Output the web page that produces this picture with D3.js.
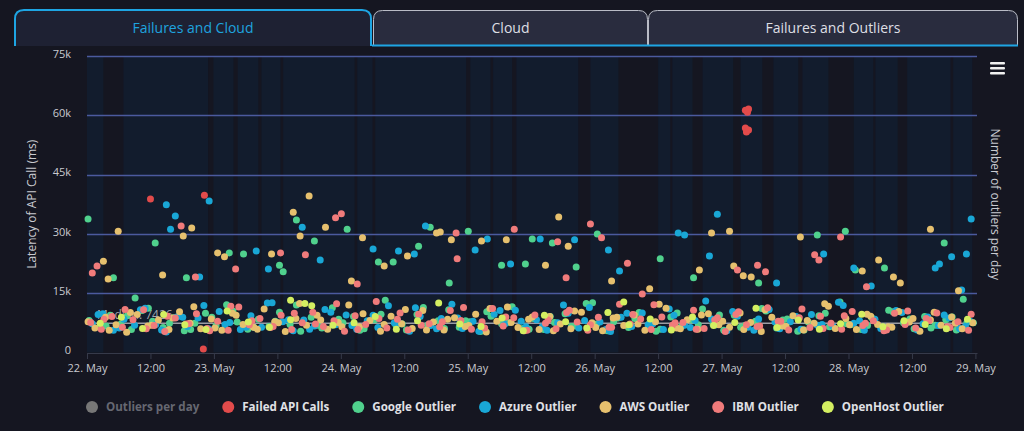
<!DOCTYPE html>
<html>
<head>
    <title>API Latency Outliers</title>
    <meta charset="utf-8">
    <style>
        html, body {
            margin: 0;
            padding: 0;
            background: #151621;
            overflow: hidden;
        }

        text {
            font-family: "Open Sans", "Noto Sans", sans-serif;
        }
    </style>
    <script src="https://d3js.org/d3.v7.min.js"></script>
</head>
<body>
<svg id="chart"></svg>
<script>
    // Tabs above the chart
    const tabNames = ['Failures and Cloud', 'Cloud', 'Failures and Outliers'];

    // Legend entries (first one is the hidden series)
    const seriesNames = ['Outliers per day', 'Failed API Calls', 'Google Outlier', 'Azure Outlier', 'AWS Outlier', 'IBM Outlier', 'OpenHost Outlier'];
    const seriesColors = ['#777777', '#e24b4b', '#50d18d', '#19a7d6', '#e6c06e', '#f07b7b', '#d4ef61'];

    // Y axis ticks, in thousands of ms
    const yTicks = [0, 15, 30, 45, 60, 75];
    const medianValue = 7.426;

    // Lighter plot bands, hours since 22 May 00:00
    const bandStart = [0, 6.9, 23.9, 28.5, 33.0, 37.1, 51.1, 54.5, 72.5, 76.8, 81.2, 95.2, 108.0, 110.7, 116.4, 123.6, 129.8, 135.3, 145.0, 149.1, 155.1, 163.8];
    const bandEnd = [3.1, 22.9, 27.7, 32.4, 36.6, 50.6, 54.0, 71.7, 76.3, 80.4, 92.9, 100.5, 110.3, 114.5, 122.2, 127.7, 134.5, 140.2, 148.7, 153.3, 163.3, 167.4];

    // Regular samples (ms in thousands), one every 2 hours
    const googleBase = [8.1, 6.5, 9.4, 7.2, 5.8, 10.6, 7.9, 6.3, 8.8, 5.5, 7.4, 9.9, 6.8, 12.1, 7.7, 5.9, 8.4, 6.6, 10.2, 7.1,
        5.4, 8.9, 6.2, 11.3, 7.5, 9.1, 6.0, 8.3, 13.2, 7.0, 5.7, 9.6, 6.9, 8.0, 10.8, 6.4, 7.8, 5.3, 9.2, 7.3,
        11.6, 6.1, 8.6, 5.8, 7.6, 9.8, 6.7, 12.4, 7.2, 5.5, 8.7, 6.3, 10.1, 7.4, 5.9, 9.0, 6.6, 8.2, 11.0, 7.1,
        5.6, 9.4, 6.8, 7.9, 10.5, 6.2, 8.5, 5.4, 7.7, 9.3, 6.5, 12.8, 7.0, 5.8, 8.8, 6.4, 10.3, 7.5, 6.0, 9.1,
        6.9, 8.3, 5.7, 7.6];
    const azureBase = [7.3, 9.8, 5.6, 8.4, 6.9, 11.2, 7.1, 5.2, 9.0, 6.6, 8.7, 6.0, 10.4, 7.6, 5.8, 9.3, 6.4, 12.6, 7.8, 5.5,
        8.2, 6.7, 10.9, 7.0, 9.5, 5.9, 8.0, 6.3, 11.8, 7.4, 5.4, 9.1, 6.8, 8.6, 12.2, 6.1, 7.9, 5.7, 9.7, 7.2,
        10.7, 6.5, 8.3, 5.6, 7.5, 9.9, 6.2, 11.4, 7.7, 5.3, 8.9, 6.6, 10.0, 7.3, 5.8, 9.4, 6.9, 8.1, 13.0, 7.0,
        5.5, 9.2, 6.4, 8.5, 10.9, 6.0, 7.8, 5.9, 9.6, 7.1, 6.7, 11.9, 7.4, 5.6, 8.4, 6.3, 10.6, 7.6, 5.7, 9.0,
        6.8, 8.7, 6.1, 7.9];
    const awsBase = [6.2, 8.9, 7.0, 5.1, 9.6, 6.7, 8.2, 5.8, 10.3, 7.4, 6.0, 8.5, 5.6, 9.9, 7.1, 6.4, 11.0, 7.8, 5.3, 8.6,
        6.9, 9.4, 5.9, 7.6, 12.0, 6.5, 8.1, 5.4, 9.2, 7.3, 6.1, 10.6, 7.7, 5.7, 8.8, 6.6, 9.7, 5.2, 7.9, 11.5,
        6.3, 8.4, 5.8, 9.1, 7.2, 6.0, 10.2, 7.5, 5.5, 8.7, 6.8, 9.5, 5.6, 7.8, 11.2, 6.2, 8.3, 5.9, 9.8, 7.0,
        6.4, 10.0, 7.6, 5.3, 8.9, 6.7, 9.3, 5.7, 7.4, 12.3, 6.1, 8.6, 5.8, 9.7, 7.1, 6.5, 10.4, 7.7, 5.4, 8.2,
        6.9, 9.0, 6.0, 7.5];
    const ibmBase = [7.6, 5.9, 9.1, 6.4, 8.3, 10.8, 6.8, 5.3, 8.7, 7.2, 9.8, 6.1, 7.9, 5.6, 11.5, 7.0, 8.6, 6.3, 9.4, 5.8,
        7.5, 10.2, 6.6, 8.0, 5.4, 9.3, 7.1, 12.9, 6.2, 8.4, 5.7, 9.7, 7.3, 6.5, 10.6, 8.1, 5.9, 7.8, 11.1, 6.7,
        8.8, 5.5, 9.5, 7.4, 6.0, 10.1, 7.7, 5.6, 8.9, 6.4, 12.2, 7.2, 8.5, 5.8, 9.0, 6.9, 7.6, 10.7, 6.1, 8.2,
        5.3, 9.6, 7.0, 6.6, 11.3, 7.9, 5.7, 8.8, 6.3, 9.2, 7.4, 5.9, 10.4, 6.8, 8.0, 5.5, 9.9, 7.1, 6.2, 8.6,
        10.0, 6.5, 7.8, 5.6];

    // Second, sparser samples, one every 4 hours
    const googleExtra = [6.7, 9.3, 11.2, 7.4, 5.8, 8.9, 10.5, 6.3, 7.9, 12.0, 6.9, 8.4, 5.6, 9.7, 7.2, 11.4, 6.1, 8.0, 10.3, 7.6,
        5.9, 9.1, 6.6, 12.6, 7.8, 8.6, 5.4, 10.0, 7.0, 9.5, 6.4, 11.1, 8.2, 5.7, 9.9, 7.3, 6.8, 10.7, 8.5, 6.2, 9.0, 7.5];
    const azureExtra = [9.6, 6.2, 10.8, 5.7, 8.9, 11.9, 7.1, 6.4, 12.5, 8.3, 5.9, 10.2, 6.8, 9.4, 7.5, 11.3, 6.0, 8.7, 5.4, 10.6,
        7.9, 6.5, 12.0, 8.1, 5.8, 9.9, 7.0, 11.0, 6.3, 8.5, 10.4, 5.6, 7.7, 9.1, 6.9, 12.7, 8.0, 6.1, 10.1, 7.3, 9.5, 6.6];
    const awsExtra = [7.8, 5.6, 10.1, 6.9, 8.7, 11.6, 6.2, 9.4, 5.9, 7.5, 12.4, 8.2, 6.5, 9.8, 7.1, 10.9, 5.7, 8.4, 6.8, 11.1,
        7.6, 9.0, 5.5, 10.5, 6.3, 8.9, 7.2, 12.2, 6.0, 9.5, 7.9, 5.8, 10.8, 6.6, 8.1, 11.7, 7.0, 9.2, 6.4, 8.6, 10.2, 7.4];
    const ibmExtra = [8.4, 10.9, 6.0, 9.2, 7.3, 5.5, 11.7, 8.0, 6.6, 9.9, 7.2, 12.3, 5.8, 8.6, 10.0, 6.9, 7.8, 11.4, 6.2, 9.0,
        5.6, 8.2, 10.7, 7.0, 6.4, 9.6, 12.1, 7.5, 5.9, 8.8, 10.3, 6.7, 7.9, 11.0, 6.1, 9.3, 7.4, 5.7, 10.5, 8.1, 6.3, 9.7];
    const openHostBase = [7.4, 8.9, 6.1, 9.6, 7.0, 5.8, 10.5, 7.7, 6.4, 8.3, 11.8, 6.9, 7.5, 9.1, 5.9, 8.0, 12.5, 7.2, 6.6, 8.7,
        5.5, 9.4, 7.8, 6.2, 10.1, 7.0, 8.5, 5.7, 9.0, 6.8, 7.6, 11.2, 6.3, 8.2, 5.9, 7.3, 9.7, 6.5, 8.0, 7.1,
        6.0, 8.4];

    // Single outliers: [hour, ms in thousands]
    const failedPoints = [[12.0, 38.8], [22.2, 39.8], [22.0, 0.9], [124.5, 61.3], [124.9, 60.8], [125.1, 61.6],
        [124.5, 56.8], [124.7, 55.8], [125.1, 56.3]];
    const googlePoints = [[0.2, 33.8], [5.0, 18.9], [12.9, 27.7], [9.1, 13.8], [18.8, 18.9], [26.9, 25.2], [29.6, 24.9],
        [36.4, 22.1], [37.1, 20.4], [39.6, 33.5], [43.0, 28.2], [49.2, 31.2], [55.1, 22.9], [57.9, 22.9], [62.7, 26.9],
        [64.9, 31.7], [68.5, 17.6], [72.1, 30.7], [78.4, 22.1], [82.9, 22.4], [84.2, 28.7], [88.0, 27.7], [92.5, 21.6],
        [96.5, 30.0], [108.4, 23.7], [114.7, 18.9], [127.0, 17.6], [138.1, 29.7], [143.4, 30.7], [145.3, 20.9],
        [150.8, 21.4], [162.1, 27.7], [165.7, 13.5]];
    const azurePoints = [[15.0, 37.4], [16.7, 34.5], [15.8, 31.2], [21.3, 19.1], [23.1, 38.3], [32.0, 25.7], [34.3, 21.1],
        [40.7, 31.7], [44.1, 23.4], [54.1, 26.2], [58.9, 25.7], [61.9, 24.9], [64.0, 32.0], [73.4, 25.9], [75.7, 28.7],
        [80.1, 22.4], [85.7, 28.7], [92.2, 28.5], [98.6, 25.9], [100.7, 20.6], [111.8, 30.2], [113.0, 29.7],
        [117.7, 24.4], [119.2, 35.0], [130.4, 17.6], [139.3, 24.9], [145.0, 21.4], [148.3, 16.8], [160.4, 21.4],
        [161.2, 22.4], [163.5, 24.2], [166.3, 24.9], [167.2, 33.8], [165.4, 15.8]];
    const awsPoints = [[3.1, 23.1], [4.0, 18.6], [5.9, 30.7], [14.3, 19.6], [18.2, 29.5], [19.8, 31.5], [24.7, 25.2],
        [26.0, 24.2], [34.9, 24.9], [39.0, 35.5], [40.3, 29.5], [42.0, 39.6], [45.1, 31.7], [50.0, 18.1], [52.1, 29.0],
        [56.2, 21.9], [60.6, 24.4], [66.1, 30.2], [66.8, 30.5], [68.9, 28.5], [74.6, 28.2], [79.3, 28.5], [86.7, 22.1],
        [89.2, 34.3], [91.0, 26.9], [99.2, 18.1], [106.4, 16.1], [115.8, 20.9], [118.1, 30.2], [121.5, 30.7],
        [122.3, 21.9], [124.1, 19.4], [125.6, 19.1], [134.9, 29.2], [146.6, 20.6], [149.7, 23.4], [152.5, 19.1],
        [153.8, 17.6], [159.5, 31.2], [164.8, 15.6]];
    const ibmPoints = [[1.0, 20.1], [1.9, 21.9], [17.8, 32.0], [20.5, 19.1], [28.1, 21.1], [36.6, 25.2], [41.3, 24.7],
        [47.0, 34.1], [48.1, 35.1], [51.1, 17.3], [69.8, 30.2], [70.0, 23.7], [80.8, 31.2], [89.0, 28.0], [90.6, 18.9],
        [95.2, 32.5], [97.3, 29.0], [102.2, 22.6], [105.0, 14.8], [123.0, 20.9], [126.8, 22.1], [128.3, 20.4],
        [137.6, 24.7], [138.4, 23.4], [142.5, 29.2], [147.4, 16.6]];
    const openHostPoints = [[38.5, 13.2], [41.2, 12.4], [101.5, 12.8]];

    const WIDTH = 1024;
    const HEIGHT = 431;
    const PLOT = {LEFT: 87, RIGHT: 977, TOP: 56, BOTTOM: 352.5};
    const POINT_RADIUS = 3.5;
    const START = new Date(2019, 4, 22);
    const hoursToDate = h => new Date(START.getTime() + h * 3600 * 1000);

    const svg = d3.select(document.getElementById('chart'))
        .attr('width', WIDTH)
        .attr('height', HEIGHT);

    svg.append('rect')
        .attr('width', WIDTH)
        .attr('height', HEIGHT)
        .attr('fill', '#151621');

    // ---- tabs ----
    const tabX = [14, 373, 648, 1018];
    const tabPath = (x0, x1, top, bottom, r) =>
        `M${x0},${bottom} L${x0},${top + r} Q${x0},${top} ${x0 + r},${top} L${x1 - r},${top} Q${x1},${top} ${x1},${top + r} L${x1},${bottom}`;

    tabNames.forEach((name, i) => {
        const active = i === 0;
        const x0 = tabX[i] + (i ? 0.5 : 1);
        const x1 = tabX[i + 1] - (i ? 0.5 : 2);
        svg.append('path')
            .attr('d', tabPath(x0, x1, active ? 10 : 10.5, 46, 9) + 'Z')
            .attr('fill', active ? '#1e2133' : '#292c3e')
            .attr('stroke', 'none');
        svg.append('path')
            .attr('d', tabPath(x0, x1, active ? 10 : 10.5, 46, 9))
            .attr('fill', 'none')
            .attr('stroke', active ? '#1ea5e3' : '#b9bcc6')
            .attr('stroke-width', active ? 2 : 1);
        svg.append('text')
            .attr('x', (x0 + x1) / 2)
            .attr('y', 33)
            .attr('text-anchor', 'middle')
            .style('font-size', '14px')
            .style('fill', active ? '#1ea3df' : '#dedfe4')
            .text(name);
    });
    // blue line under the inactive tabs
    svg.append('line')
        .attr('x1', tabX[1] - 1).attr('x2', tabX[3])
        .attr('y1', 45.5).attr('y2', 45.5)
        .attr('stroke', '#1ea5e3')
        .attr('stroke-width', 2);

    // ---- scales ----
    const x = d3.scaleTime()
        .domain([START, hoursToDate(168.3)])
        .range([PLOT.LEFT, PLOT.RIGHT]);
    const y = d3.scaleLinear()
        .domain([0, 75])
        .range([PLOT.BOTTOM, PLOT.TOP]);

    // ---- plot bands ----
    svg.append('g').selectAll('rect')
        .data(bandStart.map((s, i) => [s, bandEnd[i]]))
        .join('rect')
        .attr('x', d => x(hoursToDate(d[0])))
        .attr('width', d => x(hoursToDate(d[1])) - x(hoursToDate(d[0])))
        .attr('y', PLOT.TOP)
        .attr('height', PLOT.BOTTOM - PLOT.TOP)
        .attr('fill', '#121c2d');

    // ---- grid lines ----
    svg.append('g').selectAll('line')
        .data(yTicks.filter(d => d > 0))
        .join('line')
        .attr('x1', PLOT.LEFT).attr('x2', PLOT.RIGHT)
        .attr('y1', d => Math.round(y(d)) + 0.5)
        .attr('y2', d => Math.round(y(d)) + 0.5)
        .attr('stroke', '#4b5a9e')
        .attr('stroke-width', 1.3);

    // ---- y axis labels ----
    const yAxis = d3.axisLeft(y)
        .tickValues(yTicks)
        .tickSize(0)
        .tickPadding(16)
        .tickFormat(d => d ? d + 'k' : '0');
    const yAxisG = svg.append('g')
        .attr('transform', `translate(${PLOT.LEFT},0)`)
        .call(yAxis);
    yAxisG.select('.domain').remove();
    yAxisG.selectAll('text')
        .attr('dy', '0.1em')
        .style('font-size', '11px')
        .style('fill', '#c9cad0');

    // ---- x axis ----
    const xAxis = d3.axisBottom(x)
        .tickValues(d3.timeHour.every(12).range(START, hoursToDate(169)))
        .tickSize(6)
        .tickSizeOuter(0)
        .tickPadding(5)
        .tickFormat(d => d.getHours() === 0 ? d3.timeFormat('%-d. %b')(d) : '12:00');
    const xAxisG = svg.append('g')
        .attr('transform', `translate(0,${PLOT.BOTTOM + 0.5})`)
        .call(xAxis);
    xAxisG.select('.domain').attr('stroke', '#363a4a');
    xAxisG.selectAll('.tick line').attr('stroke', '#363a4a');
    xAxisG.selectAll('text')
        .style('font-size', '11px')
        .style('fill', '#c9cad0');

    // ---- axis titles ----
    svg.append('text')
        .attr('transform', `translate(36,${(PLOT.TOP + PLOT.BOTTOM) / 2}) rotate(-90)`)
        .attr('text-anchor', 'middle')
        .style('font-size', '12px')
        .style('fill', '#c9cad0')
        .text('Latency of API Call (ms)');
    svg.append('text')
        .attr('transform', `translate(991,${(PLOT.TOP + PLOT.BOTTOM) / 2}) rotate(90)`)
        .attr('text-anchor', 'middle')
        .style('font-size', '12px')
        .style('fill', '#c9cad0')
        .text('Number of outliers per day');

    // ---- median line ----
    svg.append('line')
        .attr('x1', PLOT.LEFT).attr('x2', PLOT.RIGHT)
        .attr('y1', y(medianValue)).attr('y2', y(medianValue))
        .attr('stroke', '#9a9ca4')
        .attr('stroke-width', 1.5);
    svg.append('text')
        .attr('x', PLOT.LEFT + 10)
        .attr('y', y(medianValue) - 4)
        .style('font-size', '12px')
        .style('fill', '#a4a6ad')
        .text('Median: ' + Math.round(medianValue * 1000));

    // ---- points ----
    const regular = (values, offset, step) => values.map((v, i) => [offset + i * step, v]);
    const pointSeries = [
        {color: seriesColors[2], points: regular(googleBase, 0.4, 2).concat(regular(googleExtra, 3.6, 4), googlePoints)},
        {color: seriesColors[3], points: regular(azureBase, 1.0, 2).concat(regular(azureExtra, 2.1, 4), azurePoints)},
        {color: seriesColors[4], points: regular(awsBase, 1.5, 2).concat(regular(awsExtra, 0.2, 4), awsPoints)},
        {color: seriesColors[5], points: regular(ibmBase, 0.7, 2).concat(regular(ibmExtra, 3.2, 4), ibmPoints)},
        {color: seriesColors[6], points: regular(openHostBase, 2.5, 4).concat(openHostPoints)},
        {color: seriesColors[1], points: failedPoints}
    ];

    pointSeries.forEach(s => {
        svg.append('g').selectAll('circle')
            .data(s.points)
            .join('circle')
            .attr('cx', d => x(hoursToDate(d[0])))
            .attr('cy', d => y(d[1]))
            .attr('r', POINT_RADIUS)
            .attr('fill', s.color);
    });

    // ---- hamburger menu ----
    svg.append('g').selectAll('rect')
        .data([0, 1, 2])
        .join('rect')
        .attr('x', 990)
        .attr('y', d => 62 + d * 5)
        .attr('width', 15)
        .attr('height', 2.5)
        .attr('rx', 1)
        .attr('fill', '#f0f0f0');

    // ---- legend ----
    const legend = svg.append('g');
    let cursor = 0;
    seriesNames.forEach((name, i) => {
        const item = legend.append('g').attr('transform', `translate(${cursor},0)`);
        item.append('circle')
            .attr('cx', 6).attr('cy', 0)
            .attr('r', 6)
            .attr('fill', seriesColors[i]);
        const label = item.append('text')
            .attr('x', 20).attr('y', 4.2)
            .style('font-size', '11.6px')
            .style('font-weight', 'bold')
            .style('fill', i === 0 ? '#666872' : '#e0e1e6')
            .text(name);
        cursor += 20 + label.node().getComputedTextLength() + 23;
    });
    const legendWidth = cursor - 23;
    legend.attr('transform', `translate(${Math.round(515 - legendWidth / 2)},407)`);
</script>
</body>
</html>
